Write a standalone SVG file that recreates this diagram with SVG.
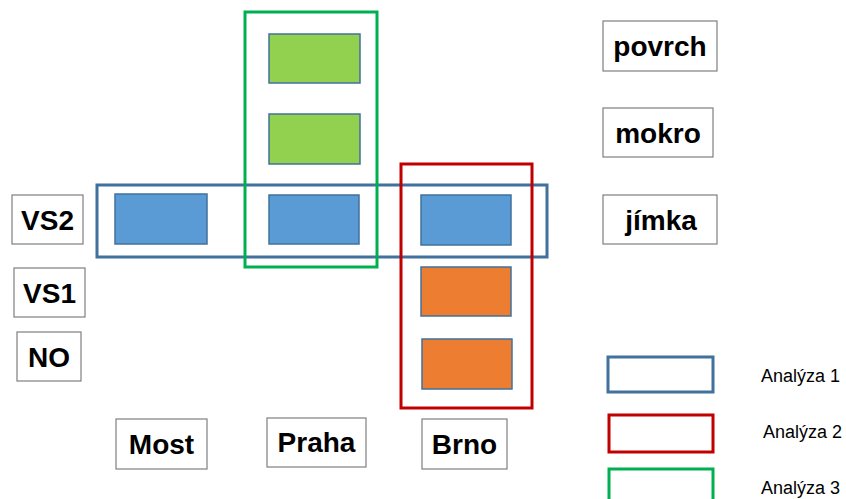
<svg xmlns="http://www.w3.org/2000/svg" width="846" height="499" viewBox="0 0 846 499">
  <style>
    .lbl { fill: #ffffff; stroke: #7f7f7f; stroke-width: 1.2; }
    .lt { font-family: "Liberation Sans", Arial, sans-serif; font-weight: bold; font-size: 28px; fill: #000000; text-anchor: middle; }
    .cell { stroke: #41719c; stroke-width: 1.5; }
    .blue { fill: #5b9bd5; }
    .green { fill: #92d050; }
    .orange { fill: #ed7d31; }
    .grp { fill: none; stroke-width: 3; }
    .a1 { stroke: #41719c; }
    .a2 { stroke: #c00000; }
    .a3 { stroke: #00b050; }
    .leg { font-family: "Liberation Sans", Arial, sans-serif; font-size: 18px; fill: #000000; }
  </style>
  <rect width="846" height="499" fill="#ffffff"/>

  <!-- row labels -->
  <g id="VS2"><rect class="lbl" x="12" y="195" width="71" height="49"/><text class="lt" x="47.5" y="230">VS2</text></g>
  <g id="VS1"><rect class="lbl" x="14" y="268" width="71" height="49"/><text class="lt" x="49.5" y="303">VS1</text></g>
  <g id="NO"><rect class="lbl" x="17" y="332" width="64" height="49"/><text class="lt" x="49" y="367">NO</text></g>

  <!-- column labels -->
  <g id="Most"><rect class="lbl" x="116" y="419" width="91" height="50"/><text class="lt" x="161.5" y="454">Most</text></g>
  <g id="Praha"><rect class="lbl" x="267" y="418" width="99" height="49"/><text class="lt" x="316.5" y="452">Praha</text></g>
  <g id="Brno"><rect class="lbl" x="422" y="419" width="85" height="50"/><text class="lt" x="464.5" y="454">Brno</text></g>

  <!-- layer labels -->
  <g id="povrch"><rect class="lbl" x="603" y="21" width="114" height="50"/><text class="lt" x="660" y="56">povrch</text></g>
  <g id="mokro"><rect class="lbl" x="603" y="108" width="110" height="49"/><text class="lt" x="658" y="143">mokro</text></g>
  <g id="jimka"><rect class="lbl" x="603" y="195" width="114" height="49"/><text class="lt" x="661" y="230">jímka</text></g>

  <!-- sample cells -->
  <g id="most-vs2"><rect class="cell blue" x="115" y="194" width="92" height="50"/></g>
  <g id="praha-povrch"><rect class="cell green" x="269" y="34" width="91" height="49"/></g>
  <g id="praha-mokro"><rect class="cell green" x="269" y="114" width="91" height="50"/></g>
  <g id="praha-vs2"><rect class="cell blue" x="269" y="195" width="90" height="49"/></g>
  <g id="brno-vs2"><rect class="cell blue" x="421" y="195" width="90" height="50"/></g>
  <g id="brno-vs1"><rect class="cell orange" x="421" y="267" width="90" height="49"/></g>
  <g id="brno-no"><rect class="cell orange" x="422" y="339" width="90" height="50"/></g>

  <!-- analysis groupings -->
  <g id="analyses">
    <rect class="grp a1" x="97" y="185" width="450" height="72"/>
    <rect class="grp a2" x="401" y="164" width="131" height="244"/>
    <rect class="grp a3" x="245" y="12" width="132" height="255"/>
  </g>

  <!-- legend -->
  <g id="legend">
    <rect class="grp a1" x="608" y="357" width="105" height="35"/>
    <text class="leg" x="761" y="382">Analýza 1</text>
    <rect class="grp a2" x="609" y="415" width="104" height="37"/>
    <text class="leg" x="763" y="438">Analýza 2</text>
    <rect class="grp a3" x="609" y="469" width="104" height="40"/>
    <text class="leg" x="761" y="494">Analýza 3</text>
  </g>
</svg>
